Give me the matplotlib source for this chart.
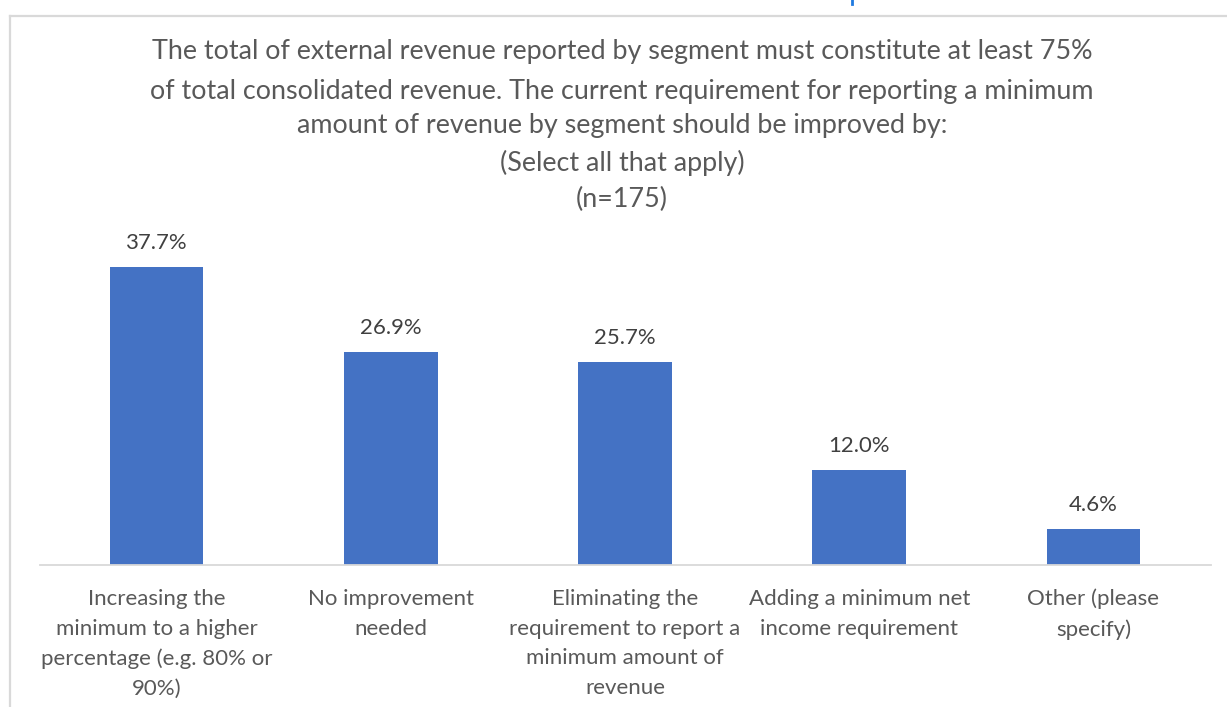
import matplotlib
matplotlib.use("Agg")
import matplotlib.pyplot as plt
from matplotlib.lines import Line2D

# Survey responses (percent of respondents, n=175)
categories = [
    "Increasing the\nminimum to a higher\npercentage (e.g. 80% or\n90%)",
    "No improvement\nneeded",
    "Eliminating the\nrequirement to report a\nminimum amount of\nrevenue",
    "Adding a minimum net\nincome requirement",
    "Other (please\nspecify)",
]
values = [37.7, 26.9, 25.7, 12.0, 4.6]
value_labels = ["37.7%", "26.9%", "25.7%", "12.0%", "4.6%"]
title_lines = [
    "The total of external revenue reported by segment must constitute at least 75%",
    "of total consolidated revenue. The current requirement for reporting a minimum",
    "amount of revenue by segment should be improved by:",
    "(Select all that apply)",
    "(n=175)",
]

W, H = 1227, 707
FONT = "Lato"
BAR_COLOR = "#4472C4"
TEXT_COLOR = "#595959"
GRID_COLOR = "#D9D9D9"

fig = plt.figure(figsize=(W / 100, H / 100), dpi=100)
fig.patch.set_facecolor("white")


def fx(px):
    return px / W


def fy(py):
    return 1 - py / H


# chart-area frame (top and left edges)
fig.add_artist(Line2D([fx(10), fx(10)], [fy(16), fy(H + 5)], color=GRID_COLOR, lw=1.6,
                      transform=fig.transFigure))
fig.add_artist(Line2D([fx(10), fx(W + 5)], [fy(16), fy(16)], color=GRID_COLOR, lw=1.6,
                      transform=fig.transFigure))
# small blue mark at the top edge
fig.add_artist(Line2D([fx(852), fx(852)], [fy(0), fy(4)], color="#1F7AE0", lw=2,
                      transform=fig.transFigure))

# plot area
ax_left, ax_right = 39.5, 1210.5
ax_top, ax_bottom = 249, 565
ax = fig.add_axes([fx(ax_left), fy(ax_bottom), fx(ax_right - ax_left), (ax_bottom - ax_top) / H])
x = list(range(len(values)))
ax.bar(x, values, width=0.4, color=BAR_COLOR, zorder=2)
ax.set_xlim(-0.5, len(values) - 0.5)
ax.set_ylim(0, 40)
for s in ["top", "right", "left"]:
    ax.spines[s].set_visible(False)
ax.spines["bottom"].set_color(GRID_COLOR)
ax.spines["bottom"].set_linewidth(1.3)
ax.set_yticks([])
ax.set_xticks(x)
ax.set_xticklabels(categories, fontsize=16, color=TEXT_COLOR, family=FONT,
                   linespacing=1.62)
ax.tick_params(axis="x", length=0, pad=17)
for lbl in ax.get_xticklabels():
    lbl.set_verticalalignment("top")

for xi, v, t in zip(x, values, value_labels):
    ax.annotate(t, (xi, v), xytext=(0, 17.3), textcoords="offset points",
                ha="center", va="center", fontsize=15.9, color="#404040", family=FONT)

# title, one line at a time
title_y = [51, 91, 125, 163, 199]
for line, yy in zip(title_lines, title_y):
    fig.text(fx(622), fy(yy), line, ha="center", va="center", fontsize=19.4,
             color=TEXT_COLOR, family=FONT)

fig.savefig("out.png", dpi=100, facecolor="white")
